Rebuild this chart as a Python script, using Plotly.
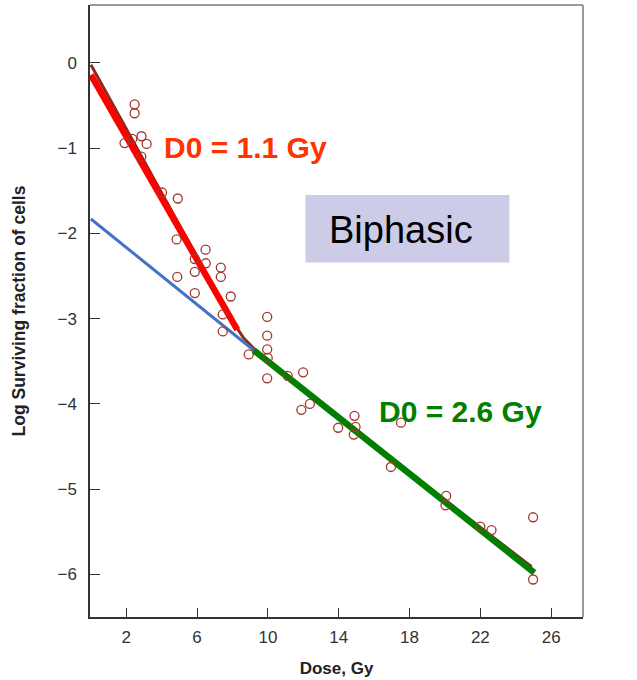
import plotly.graph_objects as go

# Observed data points (dose Gy, log surviving fraction)
dose = [2.47, 2.47, 1.90, 2.34, 2.86, 3.15, 2.85, 4.02, 4.91, 4.84,
        5.87, 5.87, 5.87, 6.48, 6.49, 4.88, 7.34, 7.34, 7.90, 7.45,
        7.45, 8.92, 9.96, 9.96, 9.96, 9.99, 9.96, 11.12, 11.99, 12.37,
        11.89, 13.97, 14.89, 14.95, 14.85, 17.52, 16.95, 20.07, 20.03, 22.0,
        22.63, 24.98, 24.98]
log_sf = [-0.485, -0.59, -0.94, -0.89, -0.86, -0.95, -1.10, -1.52, -1.59, -2.07,
          -2.30, -2.45, -2.70, -2.19, -2.35, -2.51, -2.40, -2.51, -2.74, -2.95,
          -3.15, -3.42, -2.98, -3.20, -3.36, -3.46, -3.70, -3.67, -3.63, -4.00,
          -4.07, -4.28, -4.14, -4.27, -4.36, -4.22, -4.74, -5.08, -5.19, -5.44,
          -5.48, -5.33, -6.06]

# Fitted biphasic curve
curve_x = [0, 2, 4, 6, 7, 8, 8.6, 9.3, 12, 16, 20, 24.9]
curve_y = [-0.02, -0.77, -1.52, -2.28, -2.65, -3.03, -3.22, -3.37, -3.81, -4.47, -5.13, -5.91]

# Component lines
red_x = [0, 8.27]
red_y = [-0.14, -3.13]
blue_x = [0, 9.2]
blue_y = [-1.83, -3.37]
green_x = [9.2, 25.05]
green_y = [-3.37, -5.98]

x_ticks = [2, 6, 10, 14, 18, 22, 26]
y_ticks = [0, -1, -2, -3, -4, -5, -6]

FONT = "Liberation Sans, Arial, sans-serif"

fig = go.Figure()
fig.add_trace(go.Scatter(x=curve_x, y=curve_y, mode="lines",
                         line=dict(color="#8E2A1C", width=3), hoverinfo="skip"))
fig.add_trace(go.Scatter(x=blue_x, y=blue_y, mode="lines",
                         line=dict(color="#4472C4", width=3)))
fig.add_trace(go.Scatter(x=red_x, y=red_y, mode="lines",
                         line=dict(color="#FF0000", width=6.5)))
fig.add_trace(go.Scatter(x=green_x, y=green_y, mode="lines",
                         line=dict(color="#008000", width=6.5)))
fig.add_trace(go.Scatter(x=dose, y=log_sf, mode="markers",
                         marker=dict(symbol="circle-open", size=9,
                                     color="#A0382C", line=dict(width=1.3, color="#A0382C"))))

fig.add_shape(type="rect", xref="x", yref="y", x0=12.12, x1=23.64, y0=-2.342, y1=-1.548,
              fillcolor="#CCCCE8", line=dict(width=0), layer="below")
fig.add_annotation(x=17.54, y=-1.957, xref="x", yref="y", text="Biphasic", showarrow=False,
                   font=dict(family=FONT, size=38, color="#000000"))
fig.add_annotation(x=8.76, y=-0.995, xref="x", yref="y", text="<b>D0 = 1.1 Gy</b>", showarrow=False,
                   font=dict(family=FONT, size=30, color="#FF3300"))
fig.add_annotation(x=20.88, y=-4.087, xref="x", yref="y", text="<b>D0 = 2.6 Gy</b>", showarrow=False,
                   font=dict(family=FONT, size=30, color="#008000"))

# top and right gray frame
fig.add_shape(type="line", xref="paper", yref="paper", x0=0, x1=1, y0=1, y1=1,
              line=dict(color="#9A9A9A", width=2))
fig.add_shape(type="line", xref="paper", yref="paper", x0=1, x1=1, y0=0, y1=1,
              line=dict(color="#9A9A9A", width=2))

fig.update_layout(
    width=637, height=680,
    margin=dict(l=90, r=54, t=5, b=61),
    plot_bgcolor="white", paper_bgcolor="white",
    showlegend=False,
    font=dict(family=FONT, size=17, color="#333333"),
    xaxis=dict(range=[-0.05, 27.8], tickvals=x_ticks, ticks="inside", ticklen=9,
               tickcolor="#333333", showline=True, linecolor="#333333", linewidth=1.5,
               showgrid=False, zeroline=False, ticklabelstandoff=4,
               title=dict(text="<b>Dose, Gy</b>", font=dict(size=17, color="#222222"), standoff=16)),
    yaxis=dict(range=[-6.5, 0.68], tickvals=y_ticks, ticks="inside", ticklen=10,
               tickcolor="#333333", showline=True, linecolor="#333333", linewidth=1.5,
               showgrid=False, zeroline=False, ticklabelstandoff=8,
               title=dict(text="<b>Log Surviving fraction of cells</b>",
                          font=dict(size=17.5, color="#222222"), standoff=27)),
)

fig.write_html("out.html")
